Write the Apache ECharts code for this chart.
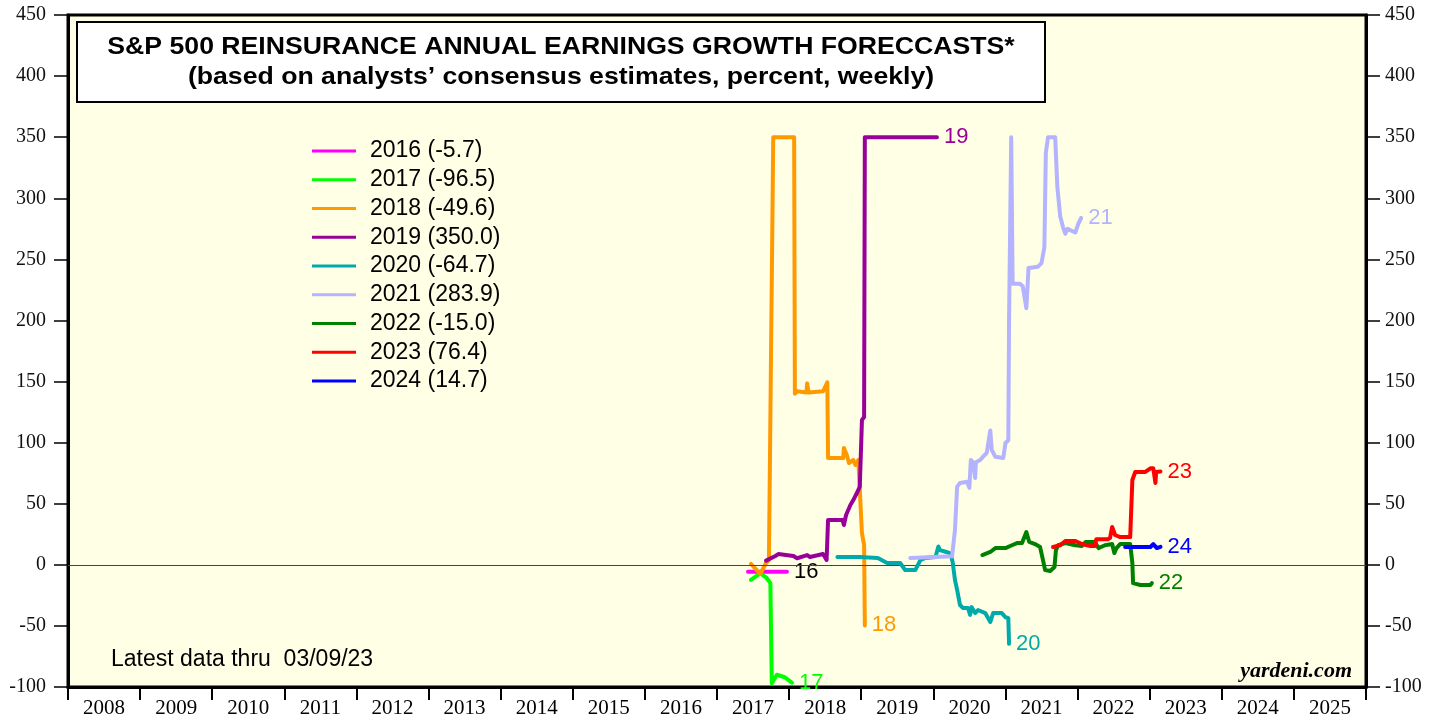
<!DOCTYPE html>
<html>
<head>
<meta charset="utf-8">
<script src="https://cdn.jsdelivr.net/npm/echarts@6/dist/echarts.min.js"></script>
<style>
  html, body { margin: 0; padding: 0; background: #fff; }
  #chart { width: 1439px; height: 719px; }
</style>
</head>
<body>
<div id="chart"></div>
<script>
// tick labels
var yearLabels = ['2008', '2009', '2010', '2011', '2012', '2013', '2014', '2015', '2016',
    '2017', '2018', '2019', '2020', '2021', '2022', '2023', '2024', '2025'];

// legend names and end tags
var legendNames = ['2016 (-5.7)', '2017 (-96.5)', '2018 (-49.6)', '2019 (350.0)', '2020 (-64.7)',
    '2021 (283.9)', '2022 (-15.0)', '2023 (76.4)', '2024 (14.7)'];
var endTags = ['16', '17', '18', '19', '20', '21', '22', '23', '24'];

// weekly forecasts, [year, percent]
var s2016 = [[2017.43, -5.7], [2017.97, -5.7]];
var s2017 = [[2017.47, -12.4], [2017.60, -7], [2017.68, -10.2], [2017.74, -15], [2017.76, -97],
    [2017.83, -90], [2017.94, -92], [2018.02, -95.6], [2018.04, -96.5]];
var s2018 = [[2017.47, 0.7], [2017.60, -7.5], [2017.68, 1.5], [2017.72, 3.9], [2017.78, 350],
    [2018.07, 350], [2018.08, 140], [2018.11, 142], [2018.24, 141], [2018.25, 148.5], [2018.27, 141],
    [2018.47, 142], [2018.53, 149.3], [2018.54, 87.4], [2018.75, 87.4], [2018.76, 95.6], [2018.80, 89.9],
    [2018.83, 83.3], [2018.89, 85.8], [2018.92, 81.7], [2018.96, 85.8], [2019.01, 26], [2019.04, 16.2],
    [2019.05, -49.6]];
var s2019 = [[2017.68, 3.4], [2017.81, 7.2], [2017.85, 8.8], [2018.06, 7.2], [2018.11, 5.4], [2018.25, 8],
    [2018.29, 6.4], [2018.47, 8.8], [2018.52, 4], [2018.54, 36.7], [2018.74, 36.7], [2018.76, 32.6],
    [2018.79, 40.8], [2018.85, 49], [2018.89, 53], [2018.94, 58.8], [2018.98, 63.7], [2019.01, 118.5],
    [2019.04, 121], [2019.05, 350], [2020.05, 350]];
var s2020 = [[2018.67, 6.4], [2018.98, 6.4], [2019.23, 5.6], [2019.36, 1.5], [2019.54, 1.5], [2019.61, -4.3],
    [2019.75, -4.3], [2019.82, 3.9], [2019.89, 5.6], [2020.03, 6.4], [2020.07, 15], [2020.09, 12],
    [2020.17, 10.7], [2020.23, 9.6], [2020.25, 6.6], [2020.27, 1.5], [2020.30, -12.4], [2020.33, -20.5],
    [2020.37, -32.9], [2020.41, -35.3], [2020.48, -35.3], [2020.51, -41], [2020.53, -34.6], [2020.58, -39.5],
    [2020.62, -37], [2020.72, -39.5], [2020.79, -46.8], [2020.83, -39.5], [2020.95, -39.5], [2021.00, -42.9],
    [2021.04, -43.7], [2021.05, -64.7]];
var s2021 = [[2019.68, 5.6], [2020.02, 6.4], [2020.26, 7], [2020.30, 28.5], [2020.33, 64], [2020.37, 67],
    [2020.47, 68], [2020.50, 63], [2020.52, 85.8], [2020.55, 84], [2020.58, 71], [2020.59, 84],
    [2020.65, 85.8], [2020.69, 88.5], [2020.74, 91.5], [2020.79, 110], [2020.81, 94], [2020.86, 88.5],
    [2020.97, 87.4], [2021.00, 99.7], [2021.04, 102], [2021.05, 200], [2021.08, 350], [2021.10, 230],
    [2021.20, 230], [2021.24, 228], [2021.29, 210], [2021.32, 243], [2021.45, 244], [2021.50, 247],
    [2021.54, 260], [2021.56, 337], [2021.59, 350], [2021.69, 350], [2021.72, 309], [2021.76, 285],
    [2021.80, 276], [2021.83, 271], [2021.86, 275], [2021.97, 272], [2022.01, 279], [2022.05, 283.9]];
var s2022 = [[2020.68, 8], [2020.79, 10.5], [2020.86, 13.7], [2021.00, 13.7], [2021.09, 16], [2021.16, 17.8],
    [2021.23, 17.8], [2021.29, 26.8], [2021.33, 18.7], [2021.41, 17], [2021.48, 14.6], [2021.52, 4],
    [2021.55, -4.3], [2021.62, -5], [2021.68, -1.8], [2021.70, 12], [2021.73, 16], [2021.83, 17.8],
    [2021.97, 16], [2022.06, 15.4], [2022.11, 18.7], [2022.24, 18.7], [2022.29, 13.7], [2022.38, 16],
    [2022.48, 17], [2022.51, 9.6], [2022.54, 13.7], [2022.59, 17], [2022.73, 17], [2022.76, 1.5],
    [2022.77, -15], [2022.87, -16.5], [2023.01, -16.5], [2023.03, -15]];
var s2023 = [[2021.66, 14.6], [2021.76, 16], [2021.83, 19.5], [2021.97, 19.5], [2022.06, 17], [2022.18, 15.4],
    [2022.24, 15.4], [2022.26, 21], [2022.42, 21], [2022.45, 21.9], [2022.48, 31], [2022.52, 24.4],
    [2022.59, 22.7], [2022.73, 22.7], [2022.76, 69.4], [2022.80, 76], [2022.94, 76], [2023.01, 79],
    [2023.05, 79], [2023.08, 67], [2023.09, 76], [2023.15, 76.4]];
var s2024 = [[2022.66, 14.6], [2023.01, 14.6], [2023.05, 17], [2023.10, 13.7], [2023.15, 14.7]];

var allSeries = [s2016, s2017, s2018, s2019, s2020, s2021, s2022, s2023, s2024];
var lineColors = ['#FF00FF', '#00FF00', '#FF9900', '#990099', '#00AAAA', '#B3B3FF', '#008000', '#FF0000', '#0000FF'];
var tagColors = ['#000000', '#00FF00', '#FF9900', '#990099', '#00AAAA', '#B3B3FF', '#008000', '#FF0000', '#0000FF'];

var myChart = echarts.init(document.getElementById('chart'));

var series = [{
    // zero line
    type: 'line',
    xAxisIndex: 1,
    data: [],
    silent: true,
    z: 1,
    markLine: {
        silent: true,
        symbol: ['none', 'none'],
        label: { show: false },
        lineStyle: { color: '#444', width: 1.2, type: 'solid' },
        data: [{ yAxis: 0 }]
    }
}];
for (var i = 0; i < allSeries.length; i++) {
    series.push({
        name: legendNames[i],
        type: 'line',
        xAxisIndex: 1,
        yAxisIndex: 0,
        data: allSeries[i],
        showSymbol: false,
        symbol: 'none',
        z: 2 + i,
        lineStyle: { color: lineColors[i], width: 4, join: 'round', cap: 'round' },
        itemStyle: { color: lineColors[i] },
        endLabel: {
            show: true,
            formatter: endTags[i],
            color: tagColors[i],
            fontFamily: 'Liberation Sans',
            fontSize: 22,
            distance: 7
        }
    });
}

var option = {
    animation: false,
    backgroundColor: '#fff',
    grid: {
        left: 68, right: 73, top: 15, bottom: 32,
        show: true,
        backgroundColor: '#FFFFE6',
        borderColor: '#000',
        borderWidth: 3
    },
    legend: {
        data: legendNames,
        orient: 'vertical',
        left: 312,
        top: 139.5,
        padding: 0,
        icon: 'rect',
        itemWidth: 44,
        itemHeight: 3,
        itemGap: 5.75,
        textStyle: {
            color: '#000',
            fontFamily: 'Liberation Sans',
            fontSize: 23,
            lineHeight: 23,
            padding: [0, 0, 0, 9]
        }
    },
    xAxis: [{
        type: 'category',
        data: yearLabels,
        boundaryGap: true,
        position: 'bottom',
        axisLine: { onZero: false, lineStyle: { color: '#000', width: 3 } },
        axisTick: { show: true, interval: 0, length: 13, lineStyle: { color: '#000', width: 2 } },
        axisLabel: { interval: 0, margin: 11, color: '#000', fontFamily: 'Liberation Serif', fontSize: 21 },
        splitLine: { show: false }
    }, {
        type: 'value',
        min: 2008,
        max: 2026,
        show: false,
        axisLine: { onZero: false },
        splitLine: { show: false }
    }],
    yAxis: [{
        type: 'value',
        position: 'left',
        min: -100, max: 450, interval: 50,
        axisLine: { show: true, onZero: false, lineStyle: { color: '#000', width: 3 } },
        axisTick: { show: true, length: 14, lineStyle: { color: '#000', width: 1.5 } },
        axisLabel: { margin: 22, color: '#111', fontFamily: 'Liberation Serif', fontSize: 20 },
        splitLine: { show: false }
    }, {
        type: 'value',
        position: 'right',
        min: -100, max: 450, interval: 50,
        axisLine: { show: true, onZero: false, lineStyle: { color: '#000', width: 3 } },
        axisTick: { show: true, length: 14, lineStyle: { color: '#000', width: 1.5 } },
        axisLabel: { margin: 19, color: '#111', fontFamily: 'Liberation Serif', fontSize: 20 },
        splitLine: { show: false }
    }],
    graphic: [{
        type: 'rect',
        shape: { x: 77, y: 22, width: 968, height: 80 },
        style: { fill: '#fff', stroke: '#000', lineWidth: 2 },
        z: 100
    }, {
        type: 'text',
        x: 561, y: 47,
        scaleX: 1.11,
        style: {
            text: 'S&P 500 REINSURANCE ANNUAL EARNINGS GROWTH FORECCASTS*',
            font: 'bold 24px "Liberation Sans"',
            fill: '#000',
            textAlign: 'center',
            textVerticalAlign: 'middle'
        },
        z: 101
    }, {
        type: 'text',
        x: 561, y: 77,
        scaleX: 1.11,
        style: {
            text: '(based on analysts\u2019 consensus estimates, percent, weekly)',
            font: 'bold 24px "Liberation Sans"',
            fill: '#000',
            textAlign: 'center',
            textVerticalAlign: 'middle'
        },
        z: 101
    }, {
        type: 'text',
        x: 111, y: 660,
        style: {
            text: 'Latest data thru  03/09/23',
            font: '23px "Liberation Sans"',
            fill: '#000',
            textAlign: 'left',
            textVerticalAlign: 'middle'
        },
        z: 101
    }, {
        type: 'text',
        x: 1352, y: 671,
        style: {
            text: 'yardeni.com',
            font: 'italic bold 22px "Liberation Serif"',
            fill: '#000',
            textAlign: 'right',
            textVerticalAlign: 'middle'
        },
        z: 101
    }],
    series: series
};

myChart.setOption(option);
</script>
</body>
</html>
